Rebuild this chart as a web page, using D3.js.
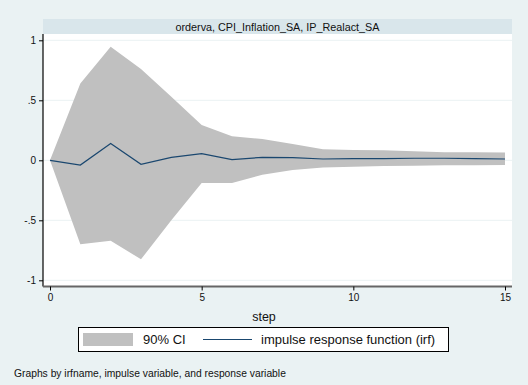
<!DOCTYPE html>
<html><head><meta charset="utf-8">
<script src="https://cdn.jsdelivr.net/npm/d3@7"></script>
<style>html,body{margin:0;padding:0;background:#eaf2f3;}svg{display:block;font-family:"Liberation Sans",Arial,sans-serif;}</style>
</head><body>
<svg id="c" width="528" height="385"></svg>
<script>
const steps = [0,1,2,3,4,5,6,7,8,9,10,11,12,13,14,15];
const irf   = [0,-0.04,0.14,-0.033,0.025,0.055,0.005,0.025,0.022,0.011,0.014,0.014,0.017,0.017,0.014,0.011];
const upper = [0,0.64,0.947,0.76,0.53,0.294,0.2,0.178,0.136,0.092,0.086,0.083,0.075,0.068,0.067,0.066];
const lower = [0,-0.70,-0.67,-0.825,-0.50,-0.19,-0.19,-0.12,-0.08,-0.061,-0.053,-0.048,-0.045,-0.042,-0.041,-0.039];
const xTicks = [0,5,10,15];
const yTicks = [1,0.5,0,-0.5,-1];
const yTickLabels = ["1",".5","0","-.5","-1"];
const title = "orderva, CPI_Inflation_SA, IP_Realact_SA";
const xLabel = "step";
const legendLabels = ["90% CI","impulse response function (irf)"];
const note = "Graphs by irfname, impulse variable, and response variable";

const svg = d3.select("#c");
svg.append("rect").attr("width",528).attr("height",385).attr("fill","#eaf2f3");

const P = {l:43, r:512, t:34, b:286.5};
const x = d3.scaleLinear().domain([0,15]).range([50,505]);
const y = d3.scaleLinear().domain([-1,1]).range([280.3,40.3]);

// title bar
svg.append("rect").attr("x",P.l).attr("y",19).attr("width",P.r-P.l).attr("height",15).attr("fill","#d9e6eb");
svg.append("text").attr("x",(P.l+P.r)/2).attr("y",30.5).attr("text-anchor","middle")
  .attr("font-size",10.8).attr("fill","#111").text(title);

// plot area
svg.append("rect").attr("x",P.l).attr("y",P.t).attr("width",P.r-P.l).attr("height",P.b-P.t).attr("fill","#ffffff");

// gridlines
svg.append("g").selectAll("line").data(yTicks).join("line")
  .attr("x1",P.l).attr("x2",P.r).attr("y1",d=>y(d)).attr("y2",d=>y(d))
  .attr("stroke","#eaf2f3").attr("stroke-width",1);

// CI band
const data = steps.map((s,i)=>({s,u:upper[i],l:lower[i],v:irf[i]}));
svg.append("path").datum(data)
  .attr("d",d3.area().x(d=>x(d.s)).y0(d=>y(d.l)).y1(d=>y(d.u)))
  .attr("fill","#c0c0c0");

// IRF line
svg.append("path").datum(data)
  .attr("d",d3.line().x(d=>x(d.s)).y(d=>y(d.v)))
  .attr("fill","none").attr("stroke","#1a476f").attr("stroke-width",1.2);

// y axis
const yAxis = d3.axisLeft(y).tickValues(yTicks).tickFormat((d,i)=>yTickLabels[i]).tickSize(4).tickPadding(3);
const gy = svg.append("g").attr("transform",`translate(${P.l},0)`).call(yAxis);
gy.select(".domain").attr("d",`M0,${P.t}V${P.b}`).attr("stroke","#000").attr("stroke-width",1.2);
gy.selectAll(".tick line").attr("stroke","#000");
gy.selectAll("text").attr("font-size",10).attr("fill","#111").attr("font-family","Liberation Sans, Arial, sans-serif");

// x axis
const xAxis = d3.axisBottom(x).tickValues(xTicks).tickSize(4).tickPadding(3);
const gx = svg.append("g").attr("transform",`translate(0,${P.b})`).call(xAxis);
gx.select(".domain").attr("d",`M${P.l},0H${P.r}`).attr("stroke","#666").attr("stroke-width",2);
gx.selectAll(".tick line").attr("stroke","#000");
gx.selectAll("text").attr("font-size",10).attr("fill","#111").attr("font-family","Liberation Sans, Arial, sans-serif");

// x label
svg.append("text").attr("x",264).attr("y",320.5).attr("text-anchor","middle").attr("font-size",12.5).attr("fill","#111").text(xLabel);

// legend
const lg = svg.append("g");
lg.append("rect").attr("x",78.5).attr("y",327.5).attr("width",370).attr("height",24).attr("fill","#fff").attr("stroke","#000").attr("stroke-width",1);
lg.append("rect").attr("x",83).attr("y",333).attr("width",50).attr("height",13).attr("fill","#c0c0c0");
lg.append("text").attr("x",143).attr("y",344).attr("font-size",13).attr("fill","#111").text(legendLabels[0]);
lg.append("line").attr("x1",203).attr("x2",252).attr("y1",339.5).attr("y2",339.5).attr("stroke","#1a476f").attr("stroke-width",1.2);
lg.append("text").attr("x",261).attr("y",344).attr("font-size",13).attr("fill","#111").text(legendLabels[1]);

// note
svg.append("text").attr("x",14).attr("y",377).attr("font-size",10.3).attr("fill","#111").text(note);
</script>
</body></html>
